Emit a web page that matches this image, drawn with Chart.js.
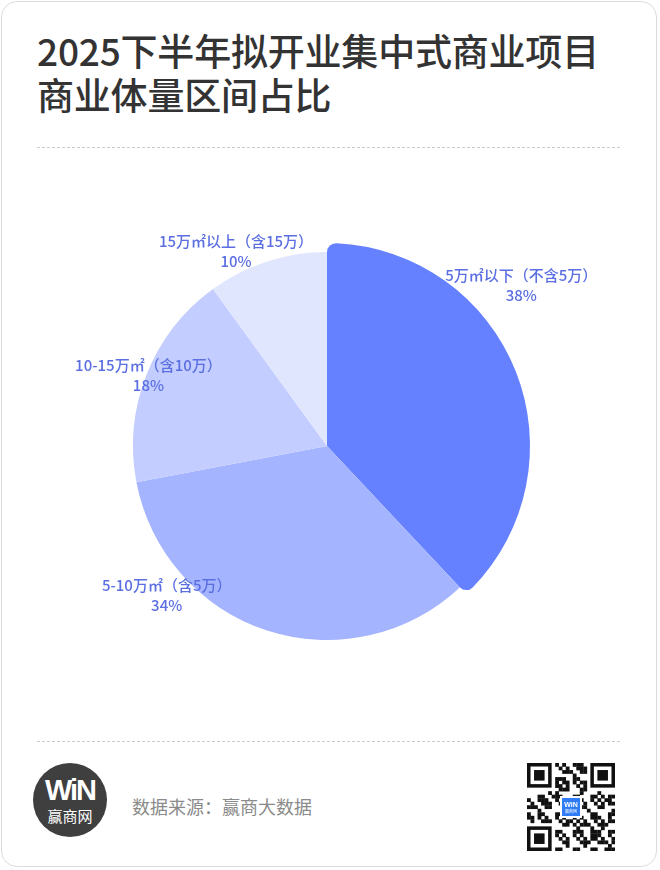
<!DOCTYPE html>
<html>
<head>
<meta charset="utf-8">
<script src="https://cdn.jsdelivr.net/npm/chart.js@4.4.1/dist/chart.umd.min.js"></script>
<style>
  html, body { margin: 0; padding: 0; background: #fff; }
  body { width: 660px; height: 870px; position: relative; overflow: hidden;
         font-family: "Noto Sans CJK SC", "Noto Sans", sans-serif; }
  .card { position: absolute; left: 1px; top: 1px; width: 656px; height: 866px;
          border: 1px solid #dcdcdc; border-radius: 16px; box-sizing: border-box; }
  .title { position: absolute; left: 37px; top: 28px; font-size: 37px; line-height: 44px;
           font-weight: 500; color: #333; letter-spacing: -0.2px; }
  .sep { position: absolute; left: 37px; width: 583px; border-top: 1px dashed #ccc; }
  #wrap { position: absolute; left: 0; top: 206px; width: 654px; height: 480px; }
  .logo { position: absolute; left: 33px; top: 763px; width: 74px; height: 74px; border-radius: 50%;
          background: #3f3f3f; color: #fff; text-align: center; }
  .logo .w { font-family: "Liberation Sans", sans-serif; font-weight: 700; font-size: 29px;
             line-height: 29px; margin-top: 13px; letter-spacing: -2px; }
  .logo .n { font-size: 15px; line-height: 18px; margin-top: 2px; }
  .src { position: absolute; left: 132px; top: 793px; font-size: 18px; color: #8a8a8a; }
  #qr { position: absolute; left: 527px; top: 763px; }
</style>
</head>
<body>
<div class="card"></div>
<div class="title">2025下半年拟开业集中式商业项目<br>商业体量区间占比</div>
<div class="sep" style="top:147px"></div>
<div id="wrap"><canvas id="pie"></canvas></div>
<div class="sep" style="top:741px"></div>
<div class="logo"><div class="w">WiN</div><div class="n">赢商网</div></div>
<div class="src">数据来源：赢商大数据</div>
<canvas id="qr" width="88" height="88"></canvas>
<script>
const categories = ['5万㎡以下（不含5万）', '5-10万㎡（含5万）', '10-15万㎡（含10万）', '15万㎡以上（含15万）'];
const shares = [38, 34, 18, 10];
const sliceColors = ['#6581ff', '#a4b4ff', '#c3cdff', '#e1e6ff'];

// label placement around the pie: angle shift (deg) from bisector and distance factor
const labelLayout = [
  { shift: -18, k: 1.30 },
  { shift: 29, k: 1.13 },
  { shift: 0, k: 0.99 },
  { shift: -7, k: 1.11 }
];

const pieLabels = {
  id: 'pieLabels',
  afterDatasetsUpdate(chart) {
    // first slice sticks out a little
    const arc = chart.getDatasetMeta(0).data[0];
    arc.outerRadius += 9;
  },
  afterDatasetsDraw(chart) {
    const ctx = chart.ctx;
    const meta = chart.getDatasetMeta(0);
    const base = 194;
    ctx.save();
    ctx.fillStyle = '#5b6fe2';
    ctx.font = '500 15px "Noto Sans CJK SC", sans-serif';
    ctx.textAlign = 'center';
    ctx.textBaseline = 'middle';
    meta.data.forEach((arc, i) => {
      const lay = labelLayout[i];
      const a = (arc.startAngle + arc.endAngle) / 2 + lay.shift * Math.PI / 180;
      const x = arc.x + Math.cos(a) * base * lay.k;
      const y = arc.y + Math.sin(a) * base * lay.k;
      ctx.fillText(chart.data.labels[i], x, y - 10);
      ctx.fillText(shares[i] + '%', x, y + 10);
    });
    ctx.restore();
  }
};

new Chart(document.getElementById('pie').getContext('2d'), {
  type: 'pie',
  data: {
    labels: categories,
    datasets: [{
      data: shares,
      backgroundColor: sliceColors,
      borderWidth: 0,
      borderRadius: c => c.dataIndex === 0 ? 9 : 0
    }]
  },
  options: {
    responsive: true,
    maintainAspectRatio: false,
    animation: false,
    radius: 194,
    layout: { padding: 0 },
    events: [],
    plugins: {
      legend: { display: false },
      tooltip: { enabled: false }
    }
  },
  plugins: [pieLabels]
});

// qr-like decoration
(function () {
  const c = document.getElementById('qr').getContext('2d');
  const n = 25, s = 88 / n;
  c.fillStyle = '#fff'; c.fillRect(0, 0, 88, 88);
  c.fillStyle = '#111';
  const finder = (x0, y0) => {
    c.fillRect(x0 * s, y0 * s, 7 * s, 7 * s);
    c.fillStyle = '#fff'; c.fillRect((x0 + 1) * s, (y0 + 1) * s, 5 * s, 5 * s);
    c.fillStyle = '#111'; c.fillRect((x0 + 2) * s, (y0 + 2) * s, 3 * s, 3 * s);
  };
  for (let y = 0; y < n; y++) {
    for (let x = 0; x < n; x++) {
      const inF = (x < 8 && y < 8) || (x > 16 && y < 8) || (x < 8 && y > 16);
      if (inF) continue;
      if (((x * 7 + y * 13 + x * y) % 5) < 2 || ((x ^ y) % 7 === 0)) c.fillRect(x * s, y * s, s + 0.3, s + 0.3);
    }
  }
  finder(0, 0); finder(18, 0); finder(0, 18);
  c.fillStyle = '#fff'; c.fillRect(33, 33, 22, 22);
  c.fillStyle = '#2f7cf6'; c.fillRect(35, 35, 18, 18);
  c.fillStyle = '#fff'; c.font = 'bold 7px "Liberation Sans"'; c.textAlign = 'center';
  c.fillText('WiN', 44, 44); c.font = '4px "Noto Sans CJK SC"'; c.fillText('赢商网', 44, 50);
})();
</script>
</body>
</html>
